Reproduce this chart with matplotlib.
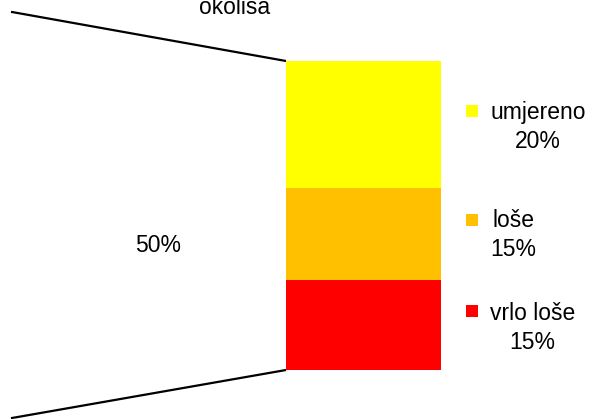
import matplotlib
matplotlib.use("Agg")
import matplotlib.pyplot as plt
from matplotlib.patches import Rectangle

plt.rcParams['font.family'] = ['Liberation Sans', 'DejaVu Sans']

title = "okoliša"
categories = ["vrlo loše", "loše", "umjereno"]
values = [14.6, 14.9, 20.5]
value_labels = ["15%", "15%", "20%"]
colors = ["#FF0000", "#FFC000", "#FFFF00"]
other_label = "50%"

W, H = 592, 419
fig = plt.figure(figsize=(W / 100, H / 100), dpi=100)
ax = fig.add_axes([0, 0, 1, 1])

total = sum(values)
bar_top_px, bar_bot_px = 61, 370
ppp = (bar_bot_px - bar_top_px) / total
ax.set_xlim(0, W)
ax.set_ylim(-(H - bar_bot_px) / ppp, total + bar_top_px / ppp)
ax.axis("off")

bx, bw = 286, 155
bottom = 0
for cat, v, c in zip(categories, values, colors):
    ax.bar(bx, v, width=bw, bottom=bottom, color=c, align="edge", linewidth=0)
    bottom += v


def yp(py):
    return total + bar_top_px / ppp - py / ppp


slope_top = (yp(61) - yp(12)) / (286 - 12)
slope_bot = (yp(371) - yp(419)) / (286 - 12)
x0 = 11
ax.plot([x0, bx], [total - slope_top * (bx - x0), total], color="black", lw=1.6,
        solid_capstyle="butt")
ax.plot([x0, bx], [0 - slope_bot * (bx - x0), 0], color="black", lw=1.6,
        solid_capstyle="butt", clip_on=True)

FS = 16.5
ax.text(158, yp(245), other_label, ha="center", va="center", fontsize=FS)
ax.text(235, yp(14), title, ha="center", va="baseline", fontsize=FS)

label_y = {"umjereno": 127, "loše": 235, "vrlo loše": 328}
marker_y = {"umjereno": 111, "loše": 220, "vrlo loše": 311}
for cat, lab, c in zip(categories, value_labels, colors):
    ax.add_patch(Rectangle((466, yp(marker_y[cat] + 6)), 12, 12 / ppp, color=c, lw=0))
    ax.text(490, yp(label_y[cat]), f"{cat}\n{lab}", ha="left", va="center",
            multialignment="center", fontsize=FS, linespacing=1.38)

fig.savefig("out.png", dpi=100)
